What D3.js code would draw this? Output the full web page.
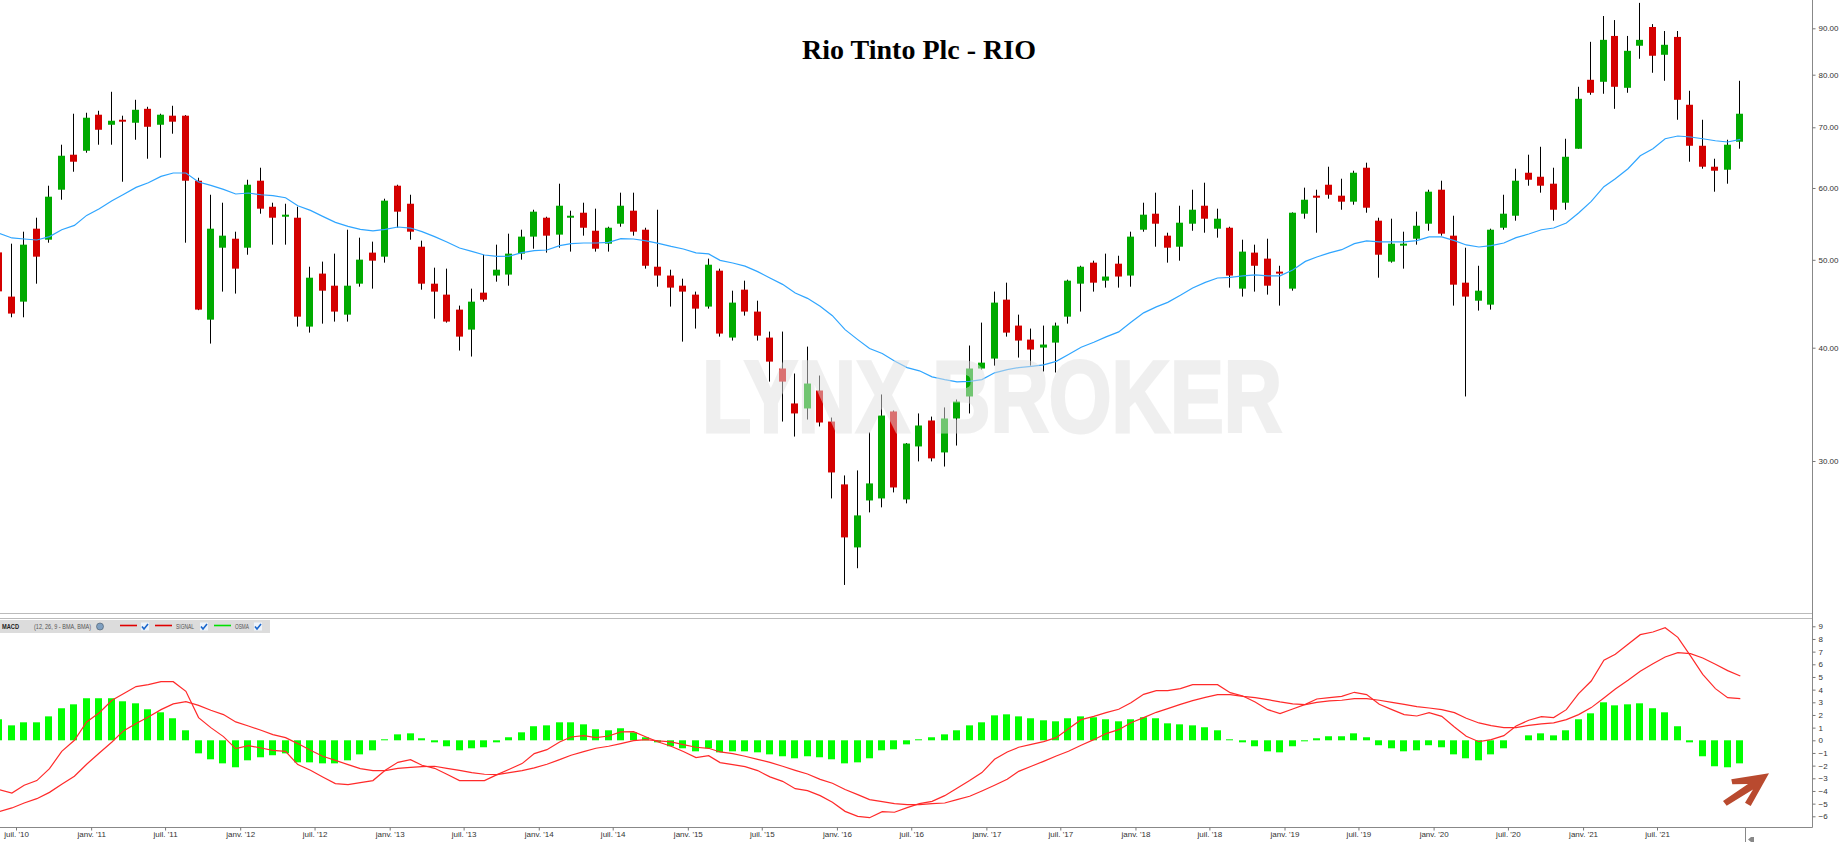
<!DOCTYPE html>
<html>
<head>
<meta charset="utf-8">
<title>Rio Tinto Plc - RIO</title>
<script src="https://cdnjs.cloudflare.com/ajax/libs/d3/7.8.5/d3.min.js"></script>
<style>
    html, body { margin: 0; padding: 0; background: #fff; overflow: hidden; }
    svg { display: block; }
    text { font-family: "Liberation Sans", sans-serif; }
</style>
</head>
<body>
<div id="chart"></div>
<script>
// monthly candles, first one is may 2010
var firstMonth = new Date(Date.UTC(2010, 4, 1));
var candleCount = 141;

var highV = [
    51.50,52.09,53.70,55.64,60.35,66.97,72.45,72.63,73.00,76.60,
    72.09,75.06,73.74,72.45,73.93,72.20,61.58,58.98,57.80,53.70,
    61.27,63.17,57.80,57.65,57.21,49.13,49.77,50.79,53.97,52.89,
    52.36,58.39,60.50,58.98,52.49,49.01,48.89,44.51,46.47,50.65,
    51.96,53.43,53.97,56.78,55.78,60.66,56.64,57.80,56.93,54.38,
    59.29,59.29,54.24,56.78,48.76,47.66,46.12,50.15,48.89,46.23,
    47.42,45.07,41.67,41.67,37.46,40.11,37.27,33.50,28.92,29.29,
    32.26,35.52,34.10,31.40,33.85,33.58,34.37,35.07,40.22,42.63,
    46.12,47.18,43.50,41.99,42.31,42.63,47.54,49.25,49.89,50.79,
    50.52,53.70,57.80,59.29,53.56,57.36,59.74,60.81,56.93,54.38,
    52.62,51.96,52.75,49.25,56.40,60.05,59.74,63.33,61.43,62.69,
    63.98,55.64,55.50,53.70,56.50,59.74,61.12,55.92,51.56,49.25,
    54.11,58.98,63.01,65.29,66.62,63.17,67.99,77.58,86.96,92.85,
    91.90,88.27,96.00,90.96,89.38,89.38,76.80,71.35,64.63,67.82,
    78.77
];
var lowV = [
    45.50,43.21,43.21,47.06,52.22,58.24,62.53,65.62,66.97,66.97,
    60.96,67.82,64.63,64.79,68.87,52.22,44.00,40.42,46.12,45.89,
    50.65,56.21,51.96,51.96,42.20,41.56,42.52,42.74,42.74,46.70,
    46.47,49.64,54.24,52.62,46.35,43.06,42.63,39.71,39.11,44.96,
    47.30,46.82,50.02,51.43,50.92,51.56,51.05,53.16,51.05,51.05,
    54.38,53.16,48.89,46.70,44.40,40.62,41.99,44.17,41.14,40.73,
    43.39,40.73,36.70,33.16,31.92,33.33,32.75,27.28,21.90,22.85,
    26.33,26.67,27.70,26.94,29.97,29.97,29.58,31.20,33.85,37.84,
    38.22,41.14,39.01,38.22,37.65,37.56,42.52,43.84,46.12,46.59,
    46.59,46.70,53.70,51.69,49.64,49.89,53.83,53.56,52.89,46.59,
    45.54,46.12,45.77,44.51,46.23,55.50,53.56,58.39,56.78,57.51,
    56.35,47.78,49.64,48.89,51.96,53.83,53.16,44.51,35.34,43.95,
    44.06,53.97,55.22,60.35,59.29,55.22,56.78,66.29,76.02,76.22,
    73.36,76.41,83.30,80.39,78.77,71.35,64.14,63.01,59.44,60.66,
    66.29
];
var openV = [
    50.95,45.54,44.96,54.11,52.62,59.74,65.29,65.95,72.27,70.45,
    71.35,70.81,73.36,70.45,72.09,72.09,61.12,42.95,51.56,52.75,
    51.56,61.12,57.21,55.78,55.64,42.20,48.28,46.82,43.50,47.06,
    50.92,50.40,60.35,57.65,51.69,47.06,45.77,44.06,41.88,46.00,
    48.04,48.16,50.79,53.03,55.64,53.30,55.64,56.35,53.83,52.09,
    54.80,56.64,53.97,49.13,48.04,46.82,45.77,44.40,48.64,41.04,
    46.35,43.84,41.04,37.94,34.72,34.28,35.88,33.16,28.27,24.09,
    27.14,27.28,34.02,27.21,31.13,33.25,30.66,33.42,35.34,37.94,
    38.91,45.19,42.31,40.83,40.01,40.52,43.28,47.06,49.64,47.42,
    49.51,48.04,53.97,56.21,53.16,51.69,54.80,57.36,54.11,54.24,
    46.47,50.92,50.15,48.52,46.47,56.21,58.84,60.50,58.84,57.95,
    63.17,55.22,49.77,51.83,52.75,54.80,59.74,53.16,47.18,45.07,
    44.62,54.24,55.92,62.37,61.74,60.66,57.80,66.29,78.97,78.57,
    88.27,77.38,86.10,90.30,84.15,88.05,74.12,66.79,63.33,62.85,
    67.48
];
var closeV = [
    46.15,43.62,51.96,50.40,58.69,65.12,64.14,71.72,69.56,71.17,
    71.00,73.18,70.09,72.27,71.00,61.12,44.06,54.11,53.16,48.89,
    60.50,56.93,55.64,56.07,43.28,47.78,46.23,43.84,46.82,50.02,
    49.89,58.10,56.50,53.70,47.06,46.12,42.74,41.14,44.96,45.19,
    48.76,50.79,53.03,56.50,53.16,57.36,55.92,54.24,51.43,54.24,
    57.36,53.70,49.25,48.04,46.59,46.12,44.17,49.38,41.46,44.85,
    43.84,41.24,38.61,36.70,33.85,36.52,33.08,29.14,24.71,26.13,
    28.34,33.67,28.05,31.36,32.83,30.20,33.42,34.89,37.94,38.51,
    44.85,41.56,40.73,39.81,40.32,42.31,47.42,49.13,47.18,47.92,
    47.92,53.03,56.07,54.80,51.56,54.94,56.78,55.50,55.50,48.04,
    51.05,49.25,46.82,48.28,56.35,58.24,58.54,58.98,57.95,62.37,
    57.07,50.65,52.09,52.09,54.52,59.44,53.43,46.94,45.54,46.23,
    53.97,56.21,61.12,61.27,60.35,56.78,64.95,75.25,76.41,87.40,
    77.58,85.00,87.40,83.94,86.31,75.06,66.79,63.33,62.69,66.97,
    72.45
];
// moving average drawn over the candles
var maV = [
    53.47,52.85,52.71,52.58,53.03,53.97,54.57,55.97,56.93,58.10,
    59.03,60.09,60.81,61.79,62.33,62.33,60.92,60.39,59.79,59.09,
    59.24,58.98,58.84,58.54,57.36,56.68,55.83,54.98,54.43,54.01,
    53.80,54.01,54.34,54.20,53.70,53.03,52.32,51.52,51.08,50.61,
    50.43,50.48,50.92,51.17,51.26,51.83,52.09,52.18,52.18,52.27,
    52.75,52.71,52.45,52.13,51.73,51.39,50.88,50.75,49.93,49.60,
    49.21,48.52,47.74,46.98,45.96,45.34,44.43,43.39,41.88,40.83,
    39.91,39.41,38.68,38.03,37.72,37.14,36.89,36.68,36.73,36.89,
    37.53,37.84,38.03,38.15,38.29,38.64,39.31,40.04,40.55,41.11,
    41.64,42.66,43.70,44.37,44.88,45.69,46.55,47.22,47.74,47.82,
    48.00,48.13,48.00,48.00,48.72,49.80,50.36,50.88,51.30,52.09,
    52.45,52.32,52.32,52.32,52.49,52.99,52.99,52.49,51.92,51.65,
    51.83,52.18,52.89,53.39,53.97,54.20,54.90,56.31,57.99,60.20,
    61.43,63.01,65.12,66.29,67.99,68.47,68.29,67.99,67.65,67.43,
    67.87
];
var macdV = [
    -3.89,-4.16,-3.55,-3.18,-2.24,-0.87,0.00,1.45,2.18,3.16,
    3.68,4.24,4.39,4.63,4.63,3.87,1.79,1.00,0.29,-0.66,
    -0.42,-0.61,-0.79,-0.87,-1.92,-2.37,-2.89,-3.42,-3.50,-3.34,
    -3.18,-2.37,-1.74,-1.53,-1.97,-2.21,-2.68,-3.18,-3.18,-3.18,
    -2.71,-2.29,-1.84,-1.05,-0.74,-0.13,0.26,0.37,0.21,0.34,
    0.66,0.68,0.26,-0.13,-0.47,-0.89,-1.37,-1.21,-1.76,-1.92,
    -2.08,-2.39,-2.89,-3.24,-3.82,-3.97,-4.37,-4.89,-5.61,-6.00,
    -6.11,-5.63,-5.68,-5.32,-5.00,-4.82,-4.37,-3.79,-3.18,-2.55,
    -1.50,-0.92,-0.55,-0.32,-0.11,0.21,0.92,1.63,1.89,2.18,
    2.45,2.97,3.63,3.92,3.92,4.08,4.39,4.39,4.39,3.76,
    3.50,3.03,2.42,2.11,2.47,2.84,3.26,3.37,3.47,3.79,
    3.61,2.84,2.42,2.03,1.92,2.18,1.89,1.05,0.32,-0.11,
    0.05,0.37,1.13,1.58,1.87,1.79,2.42,3.68,4.68,6.32,
    6.79,7.58,8.34,8.55,8.89,8.13,6.66,5.21,4.08,3.37,
    3.29
];
var signalV = [
    -5.63,-5.34,-4.95,-4.61,-4.11,-3.47,-2.84,-1.89,-1.00,-0.13,
    0.74,1.32,1.84,2.42,2.87,3.05,2.76,2.37,2.03,1.45,
    1.13,0.79,0.45,0.21,-0.26,-0.79,-1.26,-1.58,-1.92,-2.24,
    -2.39,-2.39,-2.21,-2.13,-2.08,-2.05,-2.21,-2.37,-2.55,-2.68,
    -2.71,-2.55,-2.39,-2.18,-1.89,-1.53,-1.18,-0.89,-0.63,-0.47,
    -0.26,-0.03,0.05,-0.05,-0.13,-0.34,-0.55,-0.63,-0.92,-1.05,
    -1.26,-1.50,-1.74,-2.05,-2.37,-2.66,-3.08,-3.39,-3.89,-4.29,
    -4.68,-4.84,-5.00,-5.08,-5.08,-5.00,-4.95,-4.68,-4.42,-4.00,
    -3.55,-3.08,-2.45,-2.05,-1.66,-1.24,-0.87,-0.39,0.05,0.53,
    0.84,1.39,1.79,2.21,2.50,2.84,3.13,3.39,3.61,3.61,
    3.47,3.37,3.21,3.03,2.87,2.82,3.00,3.11,3.16,3.29,
    3.29,3.16,3.00,2.84,2.66,2.55,2.42,2.18,1.74,1.37,
    1.16,1.00,1.00,1.18,1.29,1.37,1.63,2.03,2.58,3.34,
    4.05,4.74,5.45,6.05,6.58,6.92,6.84,6.50,6.00,5.50,
    5.08
];
var osmaV = [
    1.66,1.18,1.42,1.42,1.89,2.53,2.84,3.32,3.32,3.32,
    3.08,2.92,2.45,2.21,1.74,0.79,-1.03,-1.50,-1.82,-2.13,
    -1.58,-1.34,-1.18,-1.03,-1.74,-1.74,-1.82,-1.82,-1.58,-1.11,
    -0.79,0.08,0.47,0.55,0.16,-0.16,-0.47,-0.79,-0.63,-0.55,
    -0.16,0.24,0.63,1.11,1.18,1.42,1.42,1.26,0.87,0.79,
    0.95,0.63,0.24,-0.16,-0.47,-0.63,-0.87,-0.63,-0.95,-0.87,
    -0.87,-0.95,-1.11,-1.26,-1.42,-1.26,-1.34,-1.50,-1.82,-1.74,
    -1.42,-0.79,-0.71,-0.32,0.08,0.24,0.47,0.79,1.18,1.42,
    1.97,2.05,1.89,1.74,1.58,1.50,1.74,1.89,1.82,1.66,
    1.50,1.66,1.82,1.74,1.34,1.26,1.18,1.03,0.79,0.08,
    -0.16,-0.47,-0.87,-0.95,-0.47,-0.08,0.16,0.32,0.32,0.55,
    0.24,-0.39,-0.63,-0.87,-0.79,-0.39,-0.55,-1.11,-1.42,-1.58,
    -1.11,-0.63,0.00,0.39,0.55,0.39,0.79,1.66,2.13,3.00,
    2.76,2.84,2.92,2.53,2.21,1.11,-0.16,-1.26,-2.05,-2.13,
    -1.82
];

var priceTicks = [30, 40, 50, 60, 70, 80, 90];
var macdTicks = [-6, -5, -4, -3, -2, -1, 0, 1, 2, 3, 4, 5, 6, 7, 8, 9];
var legendItems = [
    {label: "", labelW: 0, color: "#e00000", lineX: 120, checkX: 145},
    {label: "SIGNAL", labelW: 18, color: "#e00000", lineX: 155, checkX: 204},
    {label: "OSMA", labelW: 14, color: "#00e000", lineX: 214, checkX: 258}
];
var monthNames = ["janv.", "juil."];

// define size properties
var w = 1841;
var h = 842;
var frameRight = 1812.5;
var mainBottom = 613.5;
var macdTop = 618.5;
var macdBottom = 827.5;

var svg = d3.select("#chart")
    .append("svg")
    .attr("width", w)
    .attr("height", h);

// candles sit around the 21st of their month on a real time axis
var candleDates = d3.range(candleCount).map(function (i) {
    return d3.utcDay.offset(d3.utcMonth.offset(firstMonth, i), 20);
});
var candles = candleDates.map(function (d, i) {
    return {date: d, open: openV[i], high: highV[i], low: lowV[i], close: closeV[i], ma: maV[i], macd: macdV[i], signal: signalV[i], osma: osmaV[i]};
});

var x = d3.scaleUtc()
    .domain([new Date(Date.UTC(2010, 6, 1)), new Date(Date.UTC(2021, 6, 1))])
    .range([16, 1657]);
var yPrice = d3.scaleLog()
    .domain([30, 90])
    .range([461, 28.3]);
var yMacd = d3.scaleLinear()
    .domain([-6, 9])
    .range([816.3, 626.3]);

// clip so nothing runs under the axes
svg.append("clipPath").attr("id", "plot-clip")
    .append("rect")
    .attr("x", 0).attr("y", 0)
    .attr("width", frameRight).attr("height", h);

// price pane
var main = svg.append("g").attr("clip-path", "url(#plot-clip)");

main.selectAll("line.wick")
    .data(candles)
    .enter()
    .append("line")
    .attr("class", "wick")
    .attr("x1", function (d) { return Math.round(x(d.date)) - 0.5; })
    .attr("x2", function (d) { return Math.round(x(d.date)) - 0.5; })
    .attr("y1", function (d) { return yPrice(d.high); })
    .attr("y2", function (d) { return yPrice(d.low); })
    .attr("stroke", "#000")
    .attr("stroke-width", 1);

main.selectAll("rect.body")
    .data(candles)
    .enter()
    .append("rect")
    .attr("class", "body")
    .attr("x", function (d) { return Math.round(x(d.date)) - 4; })
    .attr("width", 7)
    .attr("y", function (d) { return yPrice(Math.max(d.open, d.close)); })
    .attr("height", function (d) { return Math.max(1.5, yPrice(Math.min(d.open, d.close)) - yPrice(Math.max(d.open, d.close))); })
    .attr("fill", function (d) { return d.close >= d.open ? "#00aa00" : "#d40000"; });

var maLine = d3.line()
    .x(function (d) { return x(d.date); })
    .y(function (d) { return yPrice(d.ma); });
main.append("path")
    .datum(candles)
    .attr("fill", "none")
    .attr("stroke", "#2fa5ff")
    .attr("stroke-width", 1.2)
    .attr("d", maLine);

// watermark lies over the candles and washes them out
svg.append("text")
    .attr("x", 702)
    .attr("y", 431.5)
    .attr("textLength", 580)
    .attr("lengthAdjust", "spacingAndGlyphs")
    .style("font-family", "'Liberation Sans', sans-serif")
    .style("font-weight", "bold")
    .style("font-size", "102px")
    .style("fill", "#e1e1e1")
    .style("stroke", "#e1e1e1")
    .style("stroke-width", 3)
    .style("opacity", 0.5)
    .text("LYNX BROKER");

svg.append("text")
    .attr("x", 919)
    .attr("y", 59)
    .attr("text-anchor", "middle")
    .style("font-family", "'Liberation Serif', serif")
    .style("font-weight", "bold")
    .style("font-size", "28px")
    .style("fill", "#000")
    .text("Rio Tinto Plc - RIO");

// frame lines
svg.append("line").attr("x1", 0).attr("x2", frameRight).attr("y1", mainBottom).attr("y2", mainBottom).attr("stroke", "#bbb");
svg.append("line").attr("x1", 0).attr("x2", frameRight).attr("y1", macdTop).attr("y2", macdTop).attr("stroke", "#bbb");
svg.append("line").attr("x1", 0).attr("x2", frameRight).attr("y1", macdBottom).attr("y2", macdBottom).attr("stroke", "#888");
svg.append("line").attr("x1", frameRight).attr("x2", frameRight).attr("y1", 0).attr("y2", macdBottom).attr("stroke", "#888");
svg.append("line").attr("x1", 1745.5).attr("x2", 1745.5).attr("y1", macdBottom).attr("y2", h).attr("stroke", "#888");

// macd pane
var macdPane = svg.append("g").attr("clip-path", "url(#plot-clip)");

macdPane.selectAll("rect.osma")
    .data(candles)
    .enter()
    .append("rect")
    .attr("class", "osma")
    .attr("x", function (d) { return Math.round(x(d.date)) - 4; })
    .attr("width", 7)
    .attr("y", function (d) { return Math.min(yMacd(d.osma), yMacd(0)); })
    .attr("height", function (d) { return Math.abs(yMacd(d.osma) - yMacd(0)); })
    .attr("fill", "#00ff00");

["macd", "signal"].forEach(function (key) {
    var line = d3.line()
        .x(function (d) { return x(d.date); })
        .y(function (d) { return yMacd(d[key]); });
    macdPane.append("path")
        .datum(candles)
        .attr("fill", "none")
        .attr("stroke", "#ff2a2a")
        .attr("stroke-width", 1.2)
        .attr("d", line);
});

// axes
function styleAxis(g) {
    g.select(".domain").remove();
    g.selectAll("line").attr("stroke", "#777");
    g.selectAll("text")
        .style("font-family", "'Liberation Sans', sans-serif")
        .style("font-size", "8px")
        .style("fill", "#333");
}

svg.append("g")
    .attr("transform", "translate(" + frameRight + ",0)")
    .call(d3.axisRight(yPrice)
        .tickValues(priceTicks)
        .tickSize(3)
        .tickPadding(3)
        .tickFormat(d3.format(".2f")))
    .call(styleAxis);

svg.append("g")
    .attr("transform", "translate(" + frameRight + ",0)")
    .call(d3.axisRight(yMacd)
        .tickValues(macdTicks)
        .tickSize(3)
        .tickPadding(3)
        .tickFormat(d3.format("d")))
    .call(styleAxis);

var xTicks = d3.utcMonth.range(new Date(Date.UTC(2010, 6, 1)), new Date(Date.UTC(2021, 7, 1)), 6);
svg.append("g")
    .attr("transform", "translate(0," + macdBottom + ")")
    .call(d3.axisBottom(x)
        .tickValues(xTicks)
        .tickSize(3)
        .tickPadding(1)
        .tickFormat(function (d) {
            var yy = String(d.getUTCFullYear()).slice(2);
            return monthNames[d.getUTCMonth() === 0 ? 0 : 1] + " '" + yy;
        }))
    .call(styleAxis);

// legend strip of the macd pane
var legend = svg.append("g");
legend.append("rect").attr("x", 0).attr("y", 620).attr("width", 270).attr("height", 13).attr("fill", "#dcdcdc");
legend.append("text").attr("x", 2).attr("y", 629).attr("textLength", 17).attr("lengthAdjust", "spacingAndGlyphs")
    .style("font-size", "6.5px").style("font-weight", "bold").style("fill", "#222").text("MACD");
legend.append("text").attr("x", 34).attr("y", 629).attr("textLength", 57).attr("lengthAdjust", "spacingAndGlyphs")
    .style("font-size", "6.5px").style("fill", "#555").text("(12, 26, 9 - BMA, BMA)");
legend.append("circle").attr("cx", 100).attr("cy", 626.5).attr("r", 3.5).attr("fill", "#7f9fc0").attr("stroke", "#456").attr("stroke-width", 0.6);

legendItems.forEach(function (item) {
    legend.append("line")
        .attr("x1", item.lineX).attr("x2", item.lineX + 17)
        .attr("y1", 625.5).attr("y2", 625.5)
        .attr("stroke", item.color).attr("stroke-width", 1.6);
    if (item.label) {
        legend.append("text")
            .attr("x", item.lineX + 21).attr("y", 629)
            .attr("textLength", item.labelW).attr("lengthAdjust", "spacingAndGlyphs")
            .style("font-size", "6.5px").style("fill", "#555")
            .text(item.label);
    }
    legend.append("rect")
        .attr("x", item.checkX - 4).attr("y", 622.5).attr("width", 8).attr("height", 8)
        .attr("fill", "#eef3fa");
    legend.append("path")
        .attr("d", "M" + (item.checkX - 3) + ",626.5l2,2.5l4,-5")
        .attr("fill", "none").attr("stroke", "#1a66cc").attr("stroke-width", 1.6);
});

// annotation arrow in the bottom right corner
svg.append("path")
    .attr("d", "M1769,773.3 L1731.3,779.3 L1732.3,784.3 L1748,784 L1723,801 L1726.7,805.7 L1753,789.5 L1745,802.7 L1750.7,806 Z")
    .attr("fill", "#b94a2f");

// small corner glyph under the axis
svg.append("path")
    .attr("d", "M1748,839.5 L1751,837 L1754,837 L1754,842 L1751,842 Z")
    .attr("fill", "#888");
</script>
</body>
</html>
